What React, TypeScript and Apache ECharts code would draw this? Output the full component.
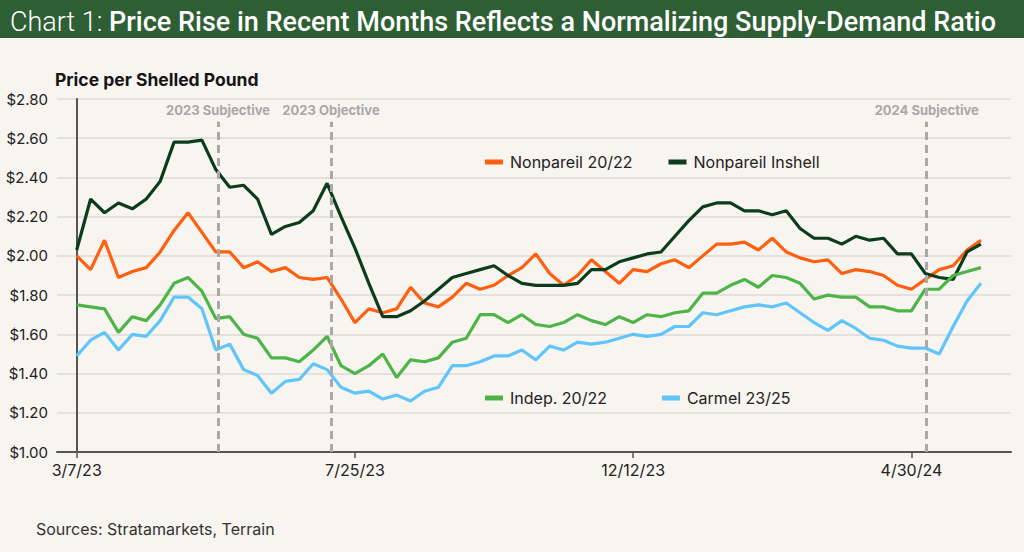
import React, { useEffect, useRef } from "react";
import * as echarts from "echarts";

// Weekly observations, index 0 = 3/7/23
const tickIndices = [0, 20, 40, 60];
const tickLabels = ["3/7/23", "7/25/23", "12/12/23", "4/30/24"];

const seriesNames = ["Nonpareil 20/22", "Nonpareil Inshell", "Indep. 20/22", "Carmel 23/25"];
const seriesColors = ["#FF5F0F", "#0B3D1C", "#4DB548", "#5FC5FA"];

const nonpareil2022 = [
  2.0, 1.93, 2.08, 1.89, 1.92, 1.94, 2.02, 2.13, 2.22, 2.12,
  2.02, 2.02, 1.94, 1.97, 1.92, 1.94, 1.89, 1.88, 1.89, 1.78,
  1.66, 1.73, 1.71, 1.73, 1.84, 1.76, 1.74, 1.79, 1.86, 1.83,
  1.85, 1.9, 1.94, 2.01, 1.91, 1.85, 1.9, 1.98, 1.92, 1.86,
  1.93, 1.92, 1.96, 1.98, 1.94, 2.0, 2.06, 2.06, 2.07, 2.03,
  2.09, 2.02, 1.99, 1.97, 1.98, 1.91, 1.93, 1.92, 1.9, 1.85,
  1.83, 1.88, 1.93, 1.95, 2.03, 2.08,
];
const nonpareilInshell = [
  2.03, 2.29, 2.22, 2.27, 2.24, 2.29, 2.38, 2.58, 2.58, 2.59,
  2.44, 2.35, 2.36, 2.29, 2.11, 2.15, 2.17, 2.23, 2.37, 2.2,
  2.04, 1.86, 1.69, 1.69, 1.72, 1.77, 1.83, 1.89, 1.91, 1.93,
  1.95, 1.9, 1.86, 1.85, 1.85, 1.85, 1.86, 1.93, 1.93, 1.97,
  1.99, 2.01, 2.02, 2.1, 2.18, 2.25, 2.27, 2.27, 2.23, 2.23,
  2.21, 2.23, 2.14, 2.09, 2.09, 2.06, 2.1, 2.08, 2.09, 2.01,
  2.01, 1.91, 1.89, 1.88, 2.02, 2.06,
];
const indep2022 = [
  1.75, 1.74, 1.73, 1.61, 1.69, 1.67, 1.75, 1.86, 1.89, 1.82,
  1.68, 1.69, 1.6, 1.58, 1.48, 1.48, 1.46, 1.52, 1.59, 1.44,
  1.4, 1.44, 1.5, 1.38, 1.47, 1.46, 1.48, 1.56, 1.58, 1.7,
  1.7, 1.66, 1.7, 1.65, 1.64, 1.66, 1.7, 1.67, 1.65, 1.69,
  1.66, 1.7, 1.69, 1.71, 1.72, 1.81, 1.81, 1.85, 1.88, 1.84,
  1.9, 1.89, 1.86, 1.78, 1.8, 1.79, 1.79, 1.74, 1.74, 1.72,
  1.72, 1.83, 1.83, 1.9, 1.92, 1.94,
];
const carmel2325 = [
  1.49, 1.57, 1.61, 1.52, 1.6, 1.59, 1.67, 1.79, 1.79, 1.73,
  1.52, 1.55, 1.42, 1.39, 1.3, 1.36, 1.37, 1.45, 1.42, 1.33,
  1.3, 1.31, 1.27, 1.29, 1.26, 1.31, 1.33, 1.44, 1.44, 1.46,
  1.49, 1.49, 1.52, 1.47, 1.54, 1.52, 1.56, 1.55, 1.56, 1.58,
  1.6, 1.59, 1.6, 1.64, 1.64, 1.71, 1.7, 1.72, 1.74, 1.75,
  1.74, 1.76, 1.71, 1.66, 1.62, 1.67, 1.63, 1.58, 1.57, 1.54,
  1.53, 1.53, 1.5, 1.64, 1.77, 1.86,
];

const eventNames = ["2023 Subjective", "2023 Objective", "2024 Subjective"];
const eventPositions = [10.16, 18.28, 61.1];

const FONT = "Inter, 'Noto Sans', sans-serif";

export default function App() {
  const ref = useRef<HTMLDivElement>(null);

  useEffect(() => {
    document.body.style.margin = "0";
    document.body.style.background = "#F8F4F0";
    if (!ref.current) return;
    const chart = echarts.init(ref.current, undefined, { renderer: "svg" });

    const allData = [nonpareil2022, nonpareilInshell, indep2022, carmel2325];
    const series: any[] = allData.map((arr, k) => ({
      name: seriesNames[k],
      type: "line",
      data: arr.map((v, i) => [i, v]),
      symbol: "none",
      lineStyle: { width: 3.2, color: seriesColors[k] },
      itemStyle: { color: seriesColors[k] },
      z: 3,
    }));
    series[0].markLine = {
      silent: true,
      symbol: "none",
      animation: false,
      lineStyle: { color: "#A9A9A9", type: [8, 5], width: 3 },
      label: {
        show: true,
        position: "end",
        distance: 5,
        formatter: (p: any) => p.name,
        color: "#A8A8A8",
        fontWeight: "bold",
        fontSize: 13,
        fontFamily: FONT,
      },
      data: eventPositions.map((p, k) => [
        { name: eventNames[k], xAxis: p, yAxis: 1.0 },
        { xAxis: p, yAxis: 2.684 },
      ]),
    };

    const legendCommon = {
      orient: "horizontal",
      icon: "rect",
      itemWidth: 18,
      itemHeight: 5,
      textStyle: { fontSize: 16, color: "#222", fontFamily: FONT, padding: [0, 0, 0, 2] },
      selectedMode: false,
    };

    chart.setOption({
      animation: false,
      backgroundColor: "#F8F4F0",
      title: {
        text: "{a|Chart 1: }{b|Price Rise in Recent Months Reflects a Normalizing Supply-Demand Ratio}",
        left: 5,
        top: 3,
        textStyle: {
          rich: {
            a: { fontFamily: "Roboto", fontWeight: 300, fontSize: 27, color: "#ffffff" },
            b: { fontFamily: "Roboto", fontWeight: 500, fontSize: 27, color: "#ffffff" },
          },
        },
      },
      graphic: [
        { type: "rect", left: 0, top: 0, shape: { width: 1024, height: 38 }, style: { fill: "#2D5E34" }, z: -1 },
        {
          type: "text",
          left: 55,
          top: 70,
          style: { text: "Price per Shelled Pound", fontSize: 17.5, fontWeight: "bold", fill: "#151515", fontFamily: FONT },
        },
        {
          type: "text",
          left: 36,
          top: 521,
          style: { text: "Sources: Stratamarkets, Terrain", fontSize: 16, fill: "#333", fontFamily: FONT },
        },
      ],
      legend: [
        { ...legendCommon, itemGap: 36, data: [seriesNames[0], seriesNames[1]], left: 480, top: 149 },
        { ...legendCommon, itemGap: 55, data: [seriesNames[2], seriesNames[3]], left: 480, top: 385 },
      ],
      grid: { left: 57, right: 13, top: 99, bottom: 100 },
      xAxis: {
        type: "value",
        min: -1.416,
        max: 67.16,
        splitLine: { show: false },
        axisLine: { show: true, lineStyle: { color: "#555", width: 2 } },
        axisTick: { show: true, customValues: tickIndices, length: 6, lineStyle: { color: "#555", width: 1.5 } },
        axisLabel: {
          customValues: tickIndices,
          formatter: (v: number) => tickLabels[tickIndices.indexOf(Math.round(v))] ?? "",
          fontSize: 16,
          color: "#222",
          margin: 10,
          fontFamily: FONT,
        },
      },
      yAxis: {
        type: "value",
        min: 1,
        max: 2.8,
        interval: 0.2,
        axisLine: { show: true, lineStyle: { color: "#555", width: 2 } },
        axisTick: { show: false },
        splitLine: { lineStyle: { color: "#DEDAD6", width: 1.5 } },
        axisLabel: {
          formatter: (v: number) => "$" + v.toFixed(2),
          fontSize: 15,
          color: "#222",
          margin: 9,
          fontFamily: FONT,
        },
      },
      series,
    });

    return () => chart.dispose();
  }, []);

  return <div ref={ref} style={{ width: 1024, height: 552 }} />;
}
